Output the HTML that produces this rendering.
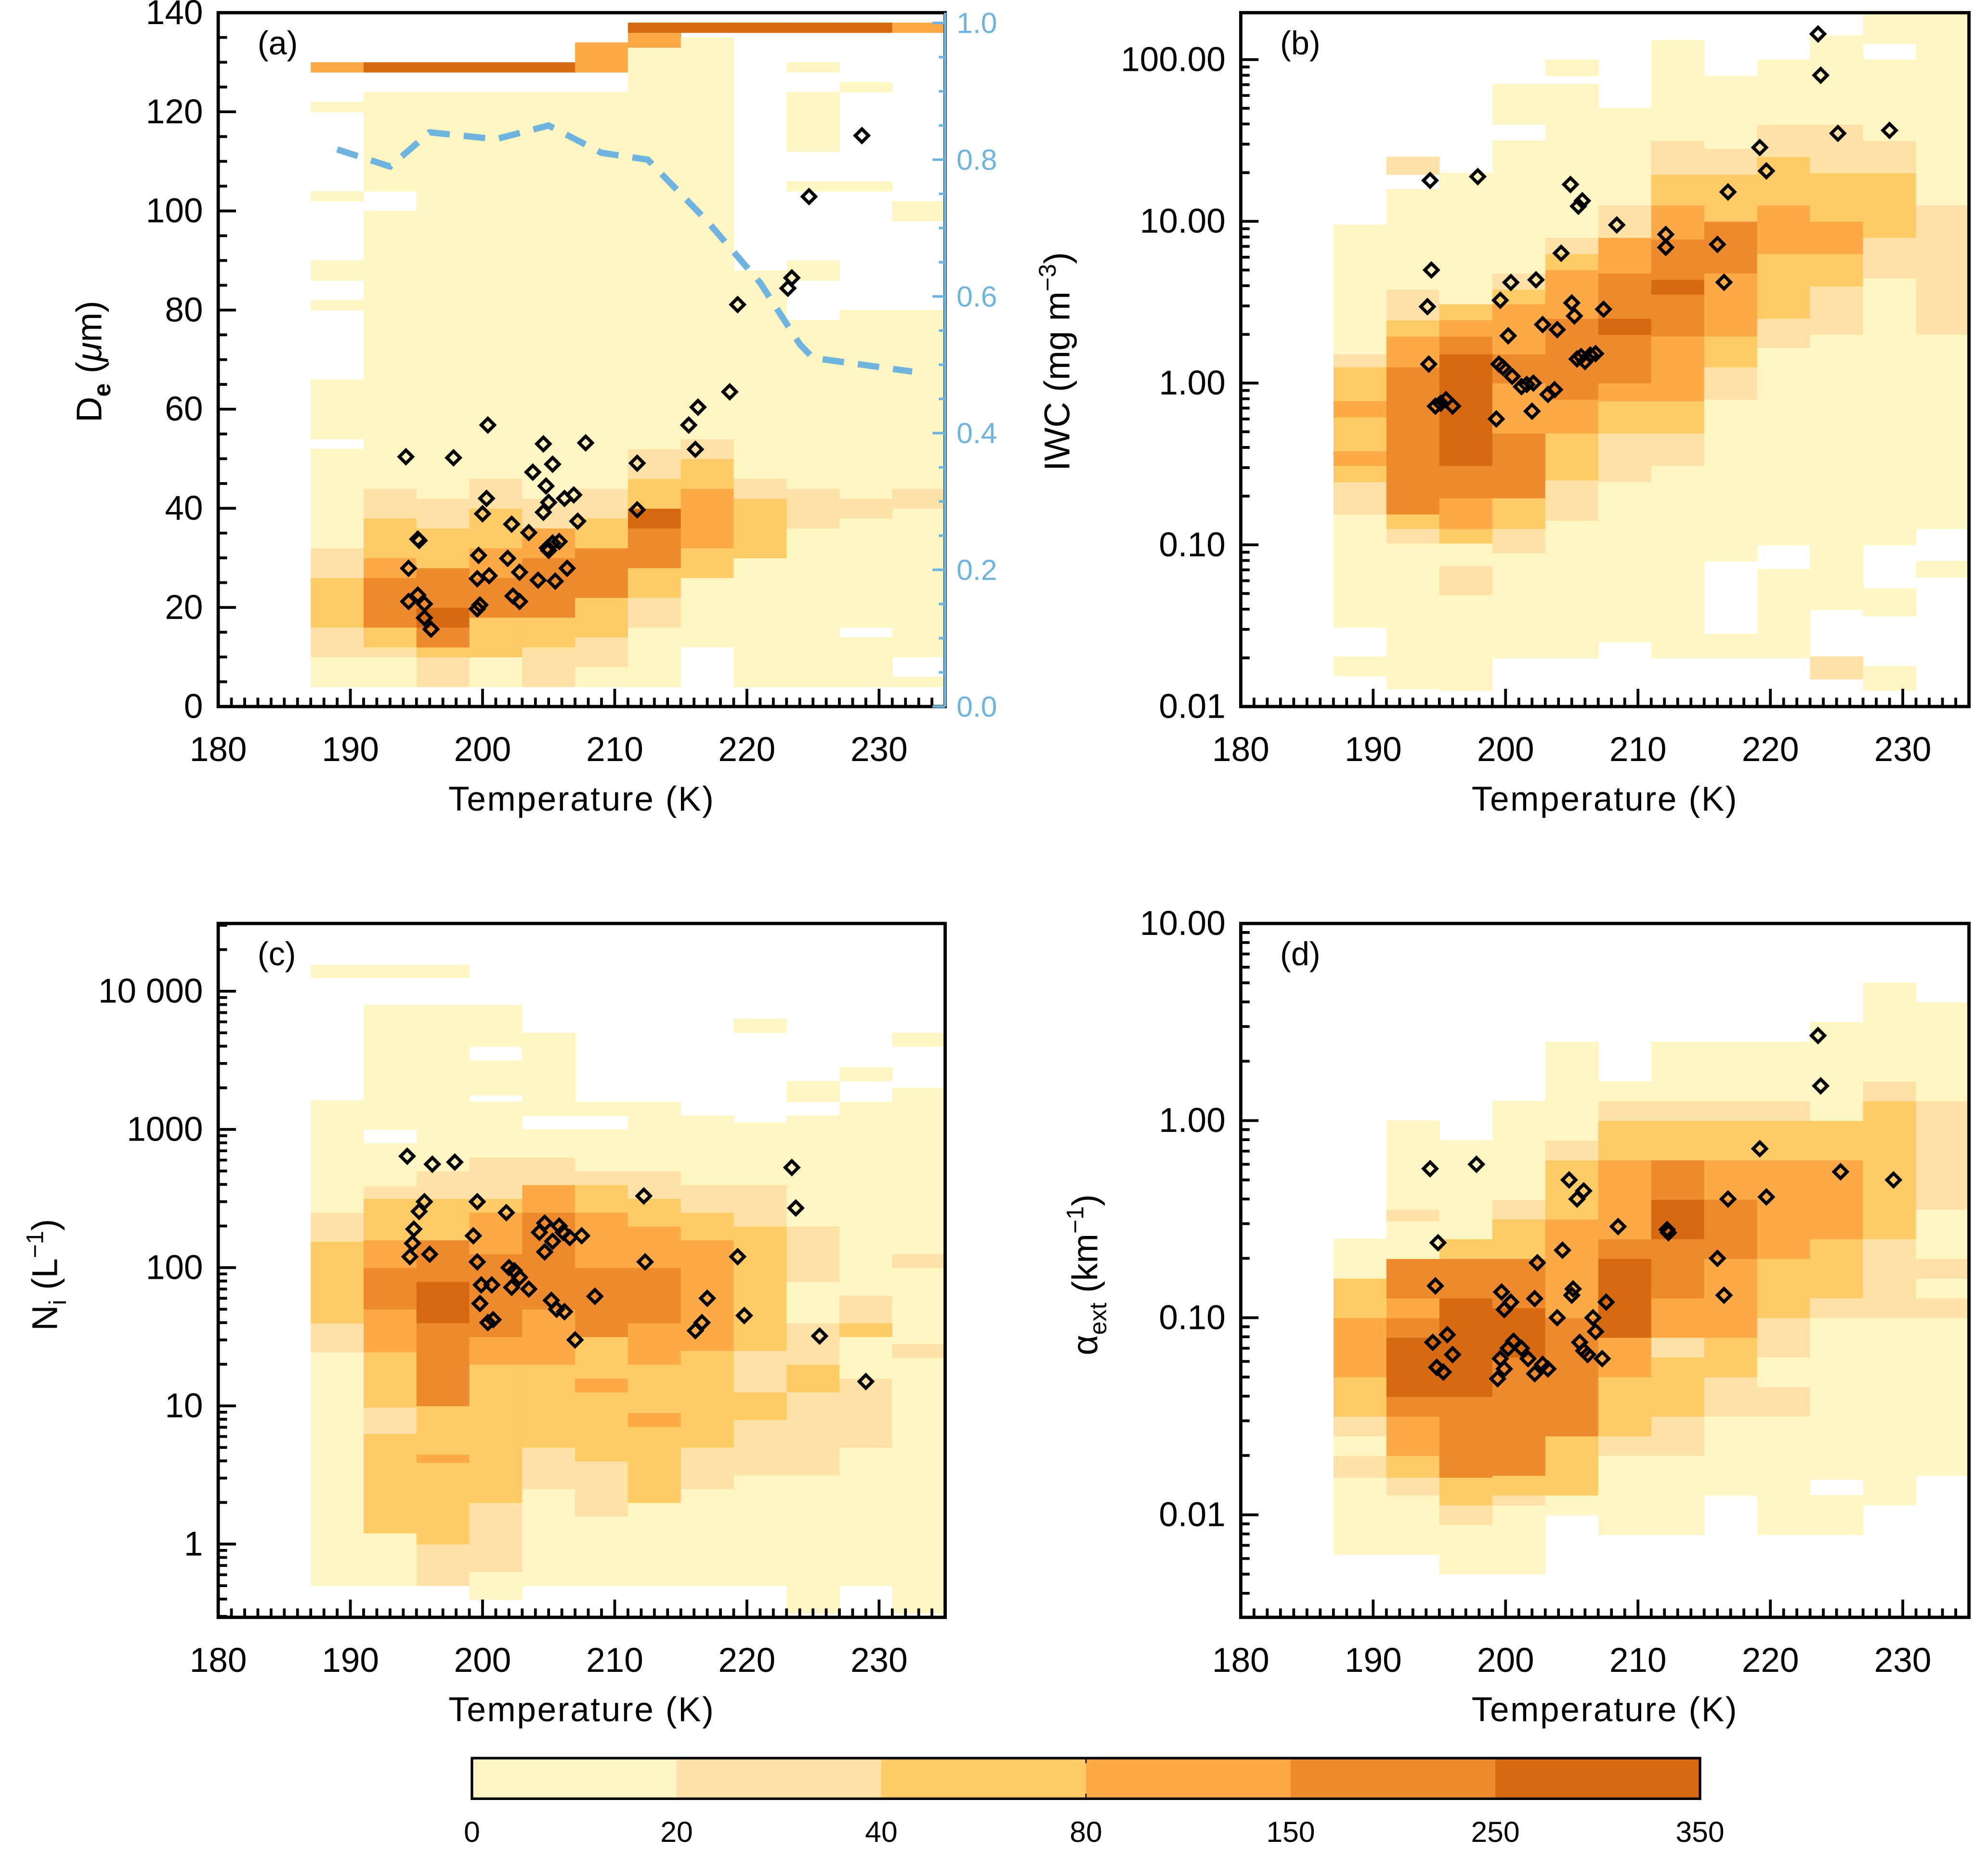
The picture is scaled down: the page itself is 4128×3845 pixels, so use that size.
<!DOCTYPE html>
<html><head><meta charset="utf-8"><style>
html,body{margin:0;padding:0;background:#fff}
svg{display:block}
text{font-family:"Liberation Sans",sans-serif;fill:#000}
</style></head><body>
<svg id="fig" width="4128" height="3845" viewBox="0 0 1567 1460" preserveAspectRatio="none" xmlns="http://www.w3.org/2000/svg"></svg>
<script>
// ---------- data ----------
const binStart = 187, binWidth = 4;
const levelColors = ["#ffffff","#FFF6C4","#FDE1A6","#FFCB66","#FCA947","#EE8A2E","#D66A12"];
const cbLabels = ["0","20","40","80","150","250","350"];

// Panel (a) De heat map: per temperature bin, segments [lo, hi, level]
const heatA = [
 [[4,10,1],[10,16,2],[16,26,3],[26,32,2],[32,52,1],[54,66,1],[80,82,1],[86,90,1],[102,104,1],[120,122,1],[128,130,4]],
 [[4,10,1],[10,12,2],[12,16,3],[16,26,5],[26,30,4],[30,38,3],[38,44,2],[44,100,1],[104,124,1],[128,130,6]],
 [[4,10,2],[10,12,3],[12,16,5],[16,20,6],[20,28,5],[28,36,3],[36,42,2],[42,124,1],[128,130,6]],
 [[4,10,1],[10,18,3],[18,26,5],[26,32,4],[32,40,3],[40,46,2],[46,124,1],[128,130,6]],
 [[4,12,2],[12,18,3],[18,30,5],[30,36,4],[36,42,2],[42,124,1],[128,130,6]],
 [[4,8,1],[8,14,2],[14,22,3],[22,32,5],[32,38,3],[38,44,2],[44,124,1],[128,134,4]],
 [[4,16,1],[16,22,2],[22,28,3],[28,36,5],[36,40,6],[40,46,3],[46,52,2],[52,133,1],[133,136,4],[136,138,6]],
 [[12,26,1],[26,32,3],[32,44,4],[44,50,3],[50,54,2],[54,135,1],[136,138,6]],
 [[4,30,1],[30,42,3],[42,46,2],[46,88,1],[136,138,6]],
 [[4,36,1],[36,44,2],[44,78,1],[86,90,1],[104,106,1],[112,124,1],[128,130,1],[136,138,6]],
 [[4,14,1],[16,38,1],[38,42,2],[42,80,1],[104,106,1],[124,126,1],[136,138,6]],
 [[4,6,1],[10,40,1],[40,44,2],[44,80,1],[98,102,1],[136,138,4]]
];
// Panel (b) log10(IWC) heat map
const heatB = [
 [[-1.81,-1.69,1],[-1.51,-0.81,1],[-0.81,-0.61,2],[-0.61,-0.51,3],[-0.51,-0.42,4],[-0.42,-0.21,3],[-0.21,-0.11,4],[-0.11,0.1,3],[0.1,0.18,2],[0.18,0.98,1]],
 [[-1.89,-0.99,1],[-0.99,-0.9,2],[-0.9,-0.81,3],[-0.81,0.1,5],[0.1,0.29,4],[0.29,0.39,3],[0.39,0.58,2],[0.58,1.2,1],[1.29,1.4,2]],
 [[-1.9,-1.31,1],[-1.31,-1.13,2],[-1.13,-0.99,1],[-0.99,-0.9,3],[-0.9,-0.71,4],[-0.71,-0.51,5],[-0.51,0.18,6],[0.18,0.29,5],[0.29,0.39,4],[0.39,0.49,3],[0.49,1.3,1]],
 [[-1.7,-1.05,1],[-1.05,-0.9,2],[-0.9,-0.71,3],[-0.71,-0.31,5],[-0.31,0.0,4],[0.0,0.18,5],[0.18,0.49,4],[0.49,0.58,3],[0.58,0.68,2],[0.68,1.5,1],[1.6,1.85,1]],
 [[-1.7,-0.85,1],[-0.85,-0.6,2],[-0.6,-0.31,3],[-0.31,-0.1,4],[-0.1,0.4,5],[0.4,0.7,4],[0.7,0.8,3],[0.8,0.9,2],[0.9,1.85,1],[1.9,2.0,1]],
 [[-1.6,-0.61,1],[-0.61,-0.31,2],[-0.31,-0.11,3],[-0.11,0.0,4],[0.0,0.3,5],[0.3,0.4,6],[0.4,0.68,5],[0.68,0.9,4],[0.9,1.1,2],[1.1,1.7,1]],
 [[-1.7,-0.51,1],[-0.51,-0.31,2],[-0.31,-0.11,3],[-0.11,0.29,4],[0.29,0.55,5],[0.55,0.64,6],[0.64,0.89,5],[0.89,1.1,4],[1.1,1.29,3],[1.29,1.5,2],[1.5,2.12,1]],
 [[-1.7,-1.55,1],[-1.1,-0.1,1],[-0.1,0.1,2],[0.1,0.29,3],[0.29,0.68,4],[0.68,1.0,5],[1.0,1.29,3],[1.29,1.45,2],[1.45,1.9,1]],
 [[-1.7,-1.15,1],[-1.0,0.22,1],[0.22,0.4,2],[0.4,0.8,3],[0.8,1.1,4],[1.1,1.4,3],[1.4,1.6,2],[1.6,2.0,1]],
 [[-1.83,-1.69,2],[-1.4,0.3,1],[0.3,0.6,2],[0.6,0.8,3],[0.8,1.0,4],[1.0,1.3,3],[1.3,1.6,2],[1.6,2.15,1]],
 [[-1.9,-1.75,1],[-1.44,-1.27,1],[-1.0,0.65,1],[0.65,0.9,2],[0.9,1.3,3],[1.3,1.5,2],[1.5,2.0,1],[2.1,2.29,1]],
 [[-1.2,-1.1,1],[-0.9,0.3,1],[0.3,1.1,2],[1.1,2.29,1]]
];
// Panel (c) log10(Ni) heat map
const heatC = [
 [[-0.3,1.39,1],[1.39,1.6,2],[1.6,2.19,3],[2.19,2.4,2],[2.4,3.21,1],[4.1,4.19,1]],
 [[-0.3,0.08,1],[0.08,0.8,3],[0.8,0.99,2],[0.99,1.39,3],[1.39,1.7,4],[1.7,2.0,5],[2.0,2.2,4],[2.2,2.5,3],[2.5,2.59,2],[2.59,2.9,1],[3.0,3.9,1],[4.1,4.19,1]],
 [[-0.3,0.0,2],[0.0,0.59,3],[0.59,0.65,4],[0.65,1.0,3],[1.0,1.6,5],[1.6,1.9,6],[1.9,2.2,5],[2.2,2.5,3],[2.5,2.7,2],[2.7,3.9,1],[4.1,4.19,1]],
 [[-0.4,-0.2,1],[-0.2,0.3,2],[0.3,1.3,3],[1.3,1.5,4],[1.5,2.1,5],[2.1,2.4,4],[2.4,2.5,3],[2.5,2.8,2],[2.8,3.2,1],[3.25,3.5,1],[3.6,3.9,1]],
 [[-0.3,0.4,1],[0.4,0.7,2],[0.7,1.3,3],[1.3,1.7,4],[1.7,2.4,5],[2.4,2.6,4],[2.6,2.8,2],[2.8,3.0,1],[3.1,3.7,1]],
 [[-0.3,0.2,1],[0.2,0.6,2],[0.6,1.1,3],[1.1,1.2,4],[1.2,1.5,3],[1.5,2.0,5],[2.0,2.4,4],[2.4,2.6,3],[2.6,2.7,2],[2.7,3.0,1],[3.1,3.2,1]],
 [[-0.3,0.3,1],[0.3,0.85,3],[0.85,0.95,4],[0.95,1.3,3],[1.3,1.6,4],[1.6,2.0,5],[2.0,2.3,4],[2.3,2.5,3],[2.5,2.7,2],[2.7,3.2,1]],
 [[-0.3,0.4,1],[0.4,0.7,2],[0.7,1.4,3],[1.4,2.2,4],[2.2,2.4,3],[2.4,2.6,2],[2.6,3.1,1]],
 [[-0.3,0.5,1],[0.5,0.9,2],[0.9,1.1,3],[1.1,1.4,2],[1.4,2.3,3],[2.3,2.6,2],[2.6,3.05,1],[3.7,3.8,1]],
 [[-0.5,0.5,1],[0.5,1.1,2],[1.1,1.3,3],[1.3,1.6,2],[1.6,1.9,1],[1.9,2.3,2],[2.3,3.1,1],[3.2,3.35,1]],
 [[-0.3,0.7,1],[0.7,1.2,2],[1.2,1.5,1],[1.5,1.6,3],[1.6,1.8,2],[1.8,3.2,1],[3.35,3.45,1]],
 [[-0.5,1.35,1],[1.35,1.45,2],[1.45,2.0,1],[2.0,2.1,2],[2.1,3.3,1],[3.6,3.7,1]]
];
// Panel (d) log10(alpha) heat map
const heatD = [
 [[-2.2,-1.81,1],[-1.81,-1.7,2],[-1.7,-1.6,1],[-1.6,-1.5,2],[-1.5,-1.3,3],[-1.3,-1.0,4],[-1.0,-0.8,3],[-0.8,-0.6,1]],
 [[-2.2,-1.9,1],[-1.9,-1.81,2],[-1.81,-1.7,3],[-1.7,-1.5,4],[-1.5,-1.4,5],[-1.4,-1.1,6],[-1.1,-1.0,5],[-1.0,-0.9,4],[-0.9,-0.7,5],[-0.7,-0.51,1],[-0.51,-0.45,2],[-0.45,0.0,1]],
 [[-2.3,-2.05,1],[-2.05,-1.95,2],[-1.95,-1.81,3],[-1.81,-1.4,5],[-1.4,-0.9,6],[-0.9,-0.7,5],[-0.7,-0.6,3],[-0.6,-0.1,1]],
 [[-2.3,-1.95,1],[-1.95,-1.9,2],[-1.9,-1.8,3],[-1.8,-1.2,5],[-1.2,-0.95,6],[-0.95,-0.7,5],[-0.7,-0.5,3],[-0.5,-0.4,2],[-0.4,0.1,1]],
 [[-2.0,-1.9,1],[-1.9,-1.6,3],[-1.6,-1.0,5],[-1.0,-0.5,4],[-0.5,-0.2,3],[-0.2,-0.1,2],[-0.1,0.4,1]],
 [[-2.1,-1.7,1],[-1.7,-1.6,2],[-1.6,-1.3,3],[-1.3,-1.1,4],[-1.1,-0.7,6],[-0.7,-0.6,5],[-0.6,-0.2,4],[-0.2,0.0,3],[0.0,0.1,2],[0.1,0.2,1]],
 [[-2.1,-1.7,1],[-1.7,-1.5,2],[-1.5,-1.2,3],[-1.2,-1.1,2],[-1.1,-0.9,4],[-0.9,-0.6,5],[-0.6,-0.4,6],[-0.4,-0.2,5],[-0.2,0.0,3],[0.0,0.1,2],[0.1,0.4,1]],
 [[-1.9,-1.5,1],[-1.5,-1.3,2],[-1.3,-1.1,3],[-1.1,-0.7,4],[-0.7,-0.4,5],[-0.4,-0.2,4],[-0.2,0.0,3],[0.0,0.1,2],[0.1,0.4,1]],
 [[-2.1,-1.5,1],[-1.5,-1.35,2],[-1.35,-1.2,1],[-1.2,-1.0,2],[-1.0,-0.7,3],[-0.7,-0.2,4],[-0.2,0.0,3],[0.0,0.1,2],[0.1,0.4,1]],
 [[-2.1,-1.9,1],[-1.82,-1.0,1],[-1.0,-0.9,2],[-0.9,-0.6,3],[-0.6,-0.2,4],[-0.2,0.0,3],[0.0,0.5,1]],
 [[-1.95,-1.0,1],[-1.0,-0.6,2],[-0.6,0.1,3],[0.1,0.2,2],[0.2,0.7,1]],
 [[-1.8,-1.0,1],[-1.0,-0.9,2],[-0.9,-0.8,1],[-0.8,-0.7,2],[-0.7,-0.45,1],[-0.45,0.1,2],[0.1,0.6,1]]
];

// Panel (a) right axis fraction (dashed line)
const fracTemps = [189,193,196,201,205,209,212.5,217,221,224,225,232.5];
const fracValues = [0.815,0.79,0.84,0.83,0.85,0.81,0.80,0.71,0.62,0.53,0.51,0.49];

// Diamonds: [temperature, value]
const ptsA = [[194.2,50.4],[195.1,33.8],[194.4,27.9],[195.2,33.5],[194.4,21.2],[195.1,22.5],[195.6,20.7],[195.6,17.9],[196.1,15.6],[197.8,50.2],[200.4,56.8],[200.3,42],[200,38.9],[199.7,30.5],[199.6,25.8],[199.6,19.7],[199.8,20.5],[200.5,26.4],[201.9,29.9],[202.2,36.8],[202.3,22.3],[202.8,27.1],[202.8,21.2],[203.5,35.1],[203.8,47.3],[204.6,39.2],[204.6,53],[204.8,44.5],[204.9,32],[205,41.2],[205.3,48.9],[205.3,33],[205.8,33.3],[205.5,25.3],[206.2,42],[206.4,27.9],[206.9,42.7],[207.2,37.4],[207.8,53.2],[211.7,49.1],[211.7,39.7],[215.6,56.8],[216.3,60.4],[216.1,51.9],[218.7,63.5],[219.3,81.1],[223.1,84.4],[223.4,86.5],[224.7,102.9],[228.7,115.2],[204.2,25.5],[205.0,31.5]];
const ptsB = [[194.3,17.9],[197.9,18.9],[194.4,5.0],[194.1,2.97],[194.2,1.31],[194.7,0.72],[195.1,0.75],[195.5,0.79],[196,0.72],[199.3,0.6],[199.6,3.25],[200.4,4.19],[200.2,1.96],[199.5,1.31],[199.8,1.25],[200.5,1.1],[201.2,0.95],[201.6,0.98],[202,0.67],[202.3,4.35],[202.1,1.0],[203.2,0.85],[202.8,2.3],[203.7,0.91],[204.2,6.35],[203.9,2.14],[204.9,16.9],[205.5,12.4],[205.8,13.4],[205,3.13],[205.2,2.6],[205.4,1.41],[205.7,1.46],[206,1.36],[206.4,1.49],[206.8,1.52],[207.4,2.86],[208.4,9.5],[212.1,8.3],[212.1,6.9],[216,7.2],[216.5,4.2],[216.8,15.2],[219.2,28.6],[219.7,20.5],[223.6,144],[223.8,80],[225.1,35],[229,36.5]];
const ptsC = [[194.3,640],[196.2,560],[197.9,580],[194.8,190],[194.7,150],[194.5,120],[195.6,300],[195.2,255],[196,125],[199.6,300],[199.3,170],[199.6,110],[199.9,75],[199.8,55],[200.4,40],[200.8,42],[201.8,250],[200.7,75],[202,100],[202.4,95],[202.2,72],[202.8,85],[203.5,70],[204.3,180],[204.7,210],[205.3,155],[205.8,200],[206.1,180],[204.7,130],[205.2,58],[205.6,50],[206.2,48],[206.6,165],[207.5,170],[207,30],[208.5,62],[212.2,330],[212.3,110],[216.1,35],[216.6,40],[217,60],[219.3,120],[219.8,45],[223.4,530],[223.7,270],[225.5,32],[229,15]];
const ptsD = [[194.3,0.57],[197.8,0.6],[194.9,0.24],[194.7,0.145],[194.5,0.075],[195.6,0.082],[194.8,0.056],[195.3,0.053],[196,0.065],[199.7,0.135],[199.9,0.11],[200.4,0.12],[200.2,0.07],[199.6,0.062],[199.9,0.055],[199.4,0.049],[200.6,0.076],[201.2,0.07],[201.7,0.062],[202.4,0.19],[202.2,0.125],[202.2,0.052],[202.8,0.058],[203.2,0.055],[203.9,0.1],[204.3,0.22],[204.8,0.5],[205.4,0.4],[205.9,0.44],[205,0.13],[205.1,0.14],[205.6,0.075],[205.9,0.068],[206.2,0.065],[206.6,0.1],[206.8,0.085],[207.3,0.062],[207.6,0.12],[208.5,0.29],[212.2,0.28],[212.3,0.27],[216,0.2],[216.5,0.13],[216.8,0.4],[219.2,0.72],[219.7,0.41],[223.6,2.7],[223.8,1.5],[225.3,0.55],[229.3,0.5]];

const xTickLabels = ["180","190","200","210","220","230"];
const yTicksA = ["0","20","40","60","80","100","120","140"];
const yTicksB = ["0.01","0.10","1.00","10.00","100.00"];
const yTicksC = ["1","10","100","1000","10 000"];
const yTicksD = ["0.01","0.10","1.00","10.00"];
const rTicksA = ["0.0","0.2","0.4","0.6","0.8","1.0"];

// ---------- drawing ----------
const NS = "http://www.w3.org/2000/svg";
const svg = document.getElementById("fig");
function el(tag, attrs, parent){ const e=document.createElementNS(NS,tag); for(const k in attrs) e.setAttribute(k,attrs[k]); (parent||svg).appendChild(e); return e; }

const panels = {
 a:{x0:172,x1:745,y0:10,y1:557,ymin:0,ymax:140,log:false},
 b:{x0:978,x1:1552,y0:10,y1:557,ymin:-2,ymax:2.29,log:true},
 c:{x0:172,x1:745,y0:728,y1:1275,ymin:-0.53,ymax:4.49,log:true},
 d:{x0:978,x1:1552,y0:728,y1:1275,ymin:-2.52,ymax:1.0,log:true}
};
const xmin=180,xmax=235;
function xs(p,t){return p.x0+(t-xmin)/(xmax-xmin)*(p.x1-p.x0);}
function ysRaw(p,v){return p.y1-(v-p.ymin)/(p.ymax-p.ymin)*(p.y1-p.y0);}
function ys(p,v){return ysRaw(p,p.log?Math.log10(v):v);}

function drawHeat(key, heat){
 const p=panels[key];
 const g=el("g",{});
 
 
 heat.forEach((col,i)=>{
  const t0=binStart+i*binWidth, t1=t0+binWidth;
  col.forEach(s=>{
   const ya=Math.max(p.y0,ysRaw(p,s[1])), yb=Math.min(p.y1,ysRaw(p,s[0]));
   const r=el("rect",{x:xs(p,t0),y:ya,width:xs(p,t1)-xs(p,t0)+0.3,height:Math.max(0,yb-ya)+0.3,fill:levelColors[s[2]]},g);
   
   
  });
 });
}
function drawPts(key, pts){
 const p=panels[key];
 const g=el("g",{fill:"none",stroke:"#000","stroke-width":2.6});
 
 
 pts.forEach(d=>{
  const x=xs(p,d[0]), y=ys(p,d[1]), r=5.2;
  const m=el("path",{d:`M${x} ${y-r}L${x+r} ${y}L${x} ${y+r}L${x-r} ${y}Z`},g);
  
  
 });
}
function drawAxes(key, labels, tickVals, minorVals, letter){
 const p=panels[key];
 const g=el("g",{stroke:"#000","stroke-width":2.2});
 
 
 for(let t=180;t<=235;t++){
  const x=xs(p,t), L=(t%10===0)?14:7;
  el("line",{x1:x,y1:p.y1,x2:x,y2:p.y1-L},g);
 }
 tickVals.forEach(v=>{ const y=ysRaw(p,v); el("line",{x1:p.x0,y1:y,x2:p.x0+14,y2:y},g); });
 minorVals.forEach(v=>{ const y=ysRaw(p,v); if(y>=p.y0&&y<=p.y1) el("line",{x1:p.x0,y1:y,x2:p.x0+7,y2:y},g); });
 const fr=el("rect",{x:p.x0,y:p.y0,width:p.x1-p.x0,height:p.y1-p.y0,fill:"none","stroke-width":2.6},g);
 
 
 xTickLabels.forEach((s,i)=>{
  const t=el("text",{x:xs(p,180+10*i),y:p.y1+43,"font-size":27,"text-anchor":"middle"});
  t.textContent=s;
  
  
 });
 labels.forEach((s,i)=>{
  const t=el("text",{x:p.x0-12,y:ysRaw(p,tickVals[i])+9,"font-size":27,"text-anchor":"end"});
  t.textContent=s;
  
  
 });
 const xt=el("text",{x:(p.x0+p.x1)/2,y:p.y1+82,"font-size":27,"text-anchor":"middle","letter-spacing":"1"});
 xt.textContent="Temperature (K)";
 
 
 const pl=el("text",{x:p.x0+31,y:p.y0+33,"font-size":26});
 pl.textContent="("+letter+")";
 
 
}
function logMinor(lo,hi){ const a=[]; for(let d=Math.floor(lo);d<=Math.ceil(hi);d++) for(let k=2;k<=9;k++) a.push(d+Math.log10(k)); return a; }

drawHeat("a",heatA); drawHeat("b",heatB); drawHeat("c",heatC); drawHeat("d",heatD);

// dashed fraction line in (a)
(function(){
 const p=panels.a;
 const fy=v=>p.y1-v/1.015*(p.y1-p.y0);
 const pts=fracTemps.map((t,i)=>xs(p,t)+","+fy(fracValues[i])).join(" ");
 const l=el("polyline",{points:pts,fill:"none",stroke:"#6FB3DF","stroke-width":5,"stroke-dasharray":"17 11"});
 
 
})();

drawPts("a",ptsA); drawPts("b",ptsB); drawPts("c",ptsC); drawPts("d",ptsD);

{
 const mA=[]; for(let v=5;v<140;v+=5) if(v%20) mA.push(v);
 drawAxes("a",yTicksA,[0,20,40,60,80,100,120,140],mA,"a");
 drawAxes("b",yTicksB,[-2,-1,0,1,2],logMinor(-2,2.3),"b");
 drawAxes("c",yTicksC,[0,1,2,3,4],logMinor(-1,4.5),"c");
 drawAxes("d",yTicksD,[-2,-1,0,1],logMinor(-3,1),"d");
}

// right axis of (a)
(function(){
 const p=panels.a;
 const fy=v=>p.y1-v/1.015*(p.y1-p.y0);
 const g=el("g",{stroke:"#6FB3DF","stroke-width":2});
 
 
 el("line",{x1:p.x1,y1:p.y0,x2:p.x1,y2:p.y1},g);
 for(let i=0;i<=20;i++){ const v=i*0.05; const y=fy(v); el("line",{x1:p.x1,y1:y,x2:p.x1-(i%4===0?10:5),y2:y},g); }
 rTicksA.forEach((s,i)=>{
  const t=el("text",{x:p.x1+9,y:fy(i*0.2)+8,"font-size":23,fill:"#6FB3DF",style:"fill:#6FB3DF"});
  t.textContent=s;
  
  
 });
})();

// y axis titles
function ytitle(x,y,html,name){
 const t=el("text",{x:x,y:y,"font-size":28,"text-anchor":"middle",transform:`rotate(-90 ${x} ${y})`});
 t.innerHTML=html;
 
 
}
ytitle(80,285,'D<tspan font-size="19" dy="7" font-weight="bold">e</tspan><tspan dy="-7"> (</tspan><tspan font-style="italic">μ</tspan>m)','y-axis-title-a');
ytitle(843,285,'IWC  (mg m<tspan font-size="19" dy="-11">−3</tspan><tspan dy="11">)</tspan>','y-axis-title-b');
ytitle(45,1005,'N<tspan font-size="19" dy="7">i</tspan><tspan dy="-7"> (L</tspan><tspan font-size="19" dy="-11">−1</tspan><tspan dy="11">)</tspan>','y-axis-title-c');
ytitle(865,1005,'α<tspan font-size="19" dy="7">ext</tspan><tspan dy="-7">  (km</tspan><tspan font-size="19" dy="-11">−1</tspan><tspan dy="11">)</tspan>','y-axis-title-d');

// colour bar
(function(){
 const x0=372,x1=1340,y0=1386,y1=1418,w=(x1-x0)/6;
 const g=el("g",{});
 
 
 for(let i=0;i<6;i++){
  const r=el("rect",{x:x0+i*w,y:y0,width:w+0.3,height:y1-y0,fill:levelColors[i+1]},g);
  
  
 }
 el("rect",{x:x0,y:y0,width:x1-x0,height:y1-y0,fill:"none",stroke:"#000","stroke-width":2},g);
 el("line",{x1:x0+3*w,y1:y0,x2:x0+3*w,y2:y0+4,stroke:"#000","stroke-width":1},g);
 el("line",{x1:x0+3*w,y1:y1,x2:x0+3*w,y2:y1-4,stroke:"#000","stroke-width":1},g);
 cbLabels.forEach((s,i)=>{
  const t=el("text",{x:x0+i*w,y:1452,"font-size":23,"text-anchor":"middle"},g);
  t.textContent=s;
  
  
 });
})();
</script>
</body></html>
